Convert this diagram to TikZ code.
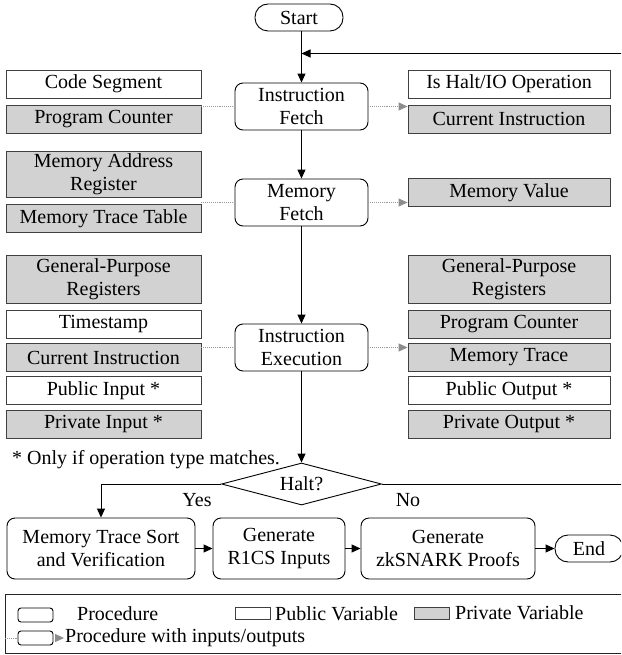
\documentclass[tikz,border=0pt]{standalone}
\usepackage{fontspec}
\setmainfont{Liberation Serif}
\usetikzlibrary{arrows.meta,shapes.geometric}
\begin{document}
\begin{tikzpicture}[x=1pt,y=-1pt,
  font=\fontsize{20}{23}\selectfont,
  var/.style={draw=black!75, line width=0.9pt, minimum height=28pt, inner sep=0pt, align=center},
  lvar/.style={var, minimum width=195pt},
  rvar/.style={var, minimum width=202pt},
  pub/.style={fill=white},
  priv/.style={fill=gray!35},
  proc/.style={draw=black, line width=0.9pt, rounded corners=8pt, minimum width=133pt, minimum height=47pt, inner sep=0pt, align=center, fill=white},
  term/.style={draw=black, line width=0.9pt, rounded corners=13pt, minimum height=27pt, inner sep=0pt, fill=white},
  flow/.style={draw=black, line width=1pt, -{Triangle[length=9pt,width=8pt]}},
  iol/.style={draw=gray!80, line width=0.9pt, densely dotted},
  io/.style={iol, -{Triangle[length=9pt,width=8pt,fill=gray!90,color=gray!90]}},
  lbl/.style={inner sep=0pt, anchor=west}
]
\useasboundingbox (0,0) rectangle (621,655);
\clip (0,0) rectangle (621,655);

% main procedures
\node[term, minimum width=88pt] (start) at (299,17.5) {Start};
\node[proc] (fetch) at (301.5,106.5) {Instruction\\Fetch};
\node[proc] (mem) at (301.5,202.5) {Memory\\Fetch};
\node[proc] (exec) at (301.5,347.5) {Instruction\\Execution};
\node[draw=black, line width=0.9pt, diamond, aspect=3.8, minimum width=160pt, minimum height=42pt, inner sep=0pt] (halt) at (301.5,484) {Halt?};

% fetch variables
\node[lvar, pub] (cs) at (103.5,84) {Code Segment};
\node[lvar, priv] (pc) at (103.5,119) {Program Counter};
\node[rvar, pub] (ishalt) at (509,84) {Is Halt/IO Operation};
\node[rvar, priv] (ci) at (509,119) {Current Instruction};

% memory variables
\node[lvar, priv, minimum height=46pt] (mar) at (103.5,174) {Memory Address\\Register};
\node[lvar, priv] (mtt) at (103.5,218.5) {Memory Trace Table};
\node[rvar, priv] (mv) at (509,192.5) {Memory Value};

% execution variables
\node[lvar, priv, minimum height=48pt] (gpl) at (103.5,279) {General-Purpose\\Registers};
\node[lvar, pub] (ts) at (103.5,324) {Timestamp};
\node[lvar, priv] (cil) at (103.5,357.5) {Current Instruction};
\node[lvar, pub] (pi) at (103.5,390.5) {Public Input *};
\node[lvar, priv] (pri) at (103.5,424) {Private Input *};
\node[rvar, priv, minimum height=48pt] (gpr) at (509,279) {General-Purpose\\Registers};
\node[rvar, priv] (pcr) at (509,324) {Program Counter};
\node[rvar, priv] (mt) at (509,357.5) {Memory Trace};
\node[rvar, pub] (po) at (509,390.5) {Public Output *};
\node[rvar, priv] (pro) at (509,424) {Private Output *};

\node[lbl] (note) at (12,460) {* Only if operation type matches.};

% io connectors
\draw[iol] (cs.east |- fetch.west) -- (fetch.west);
\draw[io] (fetch.east) -- (fetch.east -| ci.west);
\draw[iol] (mtt.east |- mem.west) -- (mem.west);
\draw[io] (mem.east) -- (mem.east -| mv.west);
\draw[iol] (ts.east |- exec.west) -- (exec.west);
\draw[io] (exec.east) -- (exec.east -| mt.west);

% main flow
\coordinate (fbr) at (640,484);
\coordinate (fbt) at (640,53.5);
\coordinate (fbj) at (301.5,53.5);
\draw[flow] (start.south -| fetch.north) -- (fetch.north);
\draw[flow] (fetch) -- (mem);
\draw[flow] (mem) -- (exec);
\draw[flow] (exec) -- (halt.north);
\draw[flow] (halt.east) -- (fbr) -- (fbt) -- (fbj);

% bottom row
\node[proc, minimum width=188pt, minimum height=61pt] (mts) at (101,548.5) {Memory Trace Sort\\and Verification};
\node[proc, minimum width=132pt, minimum height=61pt] (r1cs) at (279,548.5) {Generate\\R1CS Inputs};
\node[proc, minimum width=174pt, minimum height=61pt] (zk) at (448,548.5) {Generate\\zkSNARK Proofs};
\node[term, minimum width=68pt] (end) at (589,548.5) {End};
\draw[flow] (halt.west) -| (mts.north);
\node[inner sep=0pt] (yes) at (197,500) {Yes};
\node[inner sep=0pt] (no) at (408,500) {No};
\draw[flow] (mts) -- (r1cs);
\draw[flow] (r1cs) -- (zk);
\draw[flow] (zk) -- (end);

% legend
\node[draw=black!85, line width=1pt, minimum width=640pt, minimum height=59pt, inner sep=0pt, anchor=north west] (legend) at (5,594) {};
\node[proc, minimum width=35pt, minimum height=14pt, rounded corners=3pt] (lproc) at (35.5,615) {};
\node[lbl] (lproct) at (77,614) {Procedure};
\node[var, pub, minimum width=35pt, minimum height=12pt] (lpub) at (252.5,613) {};
\node[lbl] (lpubt) at (275,614) {Public Variable};
\node[var, priv, minimum width=35pt, minimum height=12pt] (lpriv) at (431.5,613) {};
\node[lbl] (lprivt) at (455,613) {Private Variable};
\node[proc, minimum width=35pt, minimum height=14pt, rounded corners=3pt] (lproc2) at (35.5,638) {};
\coordinate (ldl) at (5,638);
\coordinate (lda) at (64,638);
\draw[iol] (ldl) -- (lproc2.west);
\draw[io] (lproc2.east) -- (lda);
\node[lbl] (liot) at (65,638) {Procedure with inputs/outputs};
\end{tikzpicture}
\end{document}
